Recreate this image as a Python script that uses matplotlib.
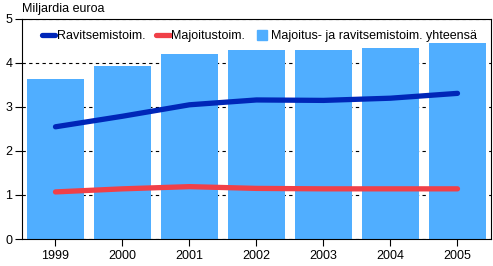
'''
Majoitus- ja ravitsemistoiminta, miljardia euroa
'''

import numpy as np
import matplotlib
matplotlib.use('Agg')
import matplotlib.pyplot as plt
from matplotlib.lines import Line2D

######################################

years=['1999','2000','2001','2002','2003','2004','2005']
ravitsemis=[2.55,2.79,3.05,3.16,3.15,3.20,3.31]
majoitus=[1.07,1.14,1.19,1.15,1.14,1.14,1.14]
yhteensa=[3.64,3.94,4.20,4.30,4.30,4.34,4.46]

######################################

barCol='#50aeff'
blueCol='#0026b8'
redCol='#f04048'

plt.rcParams['font.family']=['Liberation Sans','DejaVu Sans']
plt.rcParams['font.size']=9

fig=plt.figure(figsize=(4.93,2.66),dpi=100)
ax=fig.add_axes([0.0446,0.1015,0.9513,0.8271])

x=np.arange(len(years))

# grid behind bars
ax.set_axisbelow(True)
ax.yaxis.grid(True,linestyle=(0,(3,3)),color='black',linewidth=0.8)

ax.bar(x,yhteensa,width=0.84,color=barCol,zorder=2)
ax.plot(x,ravitsemis,color=blueCol,linewidth=3.8,solid_capstyle='round',zorder=3)
ax.plot(x,majoitus,color=redCol,linewidth=3.8,solid_capstyle='round',zorder=3)

ax.set_xlim(-0.5,6.5)
ax.set_ylim(0,5)
ax.set_xticks(x)
ax.set_xticklabels(years)
ax.set_yticks([0,1,2,3,4,5])
ax.tick_params(axis='both',direction='out',length=5,width=0.8,labelsize=9,colors='black')
ax.tick_params(axis='x',pad=3)
ax.tick_params(axis='y',pad=2)
for s in ax.spines.values():
  s.set_linewidth(0.8)

# legend: lines first, then a small square for the bars
handles=[Line2D([],[],color=blueCol,linewidth=3.8,solid_capstyle='round'),
         Line2D([],[],color=redCol,linewidth=3.8,solid_capstyle='round'),
         Line2D([],[],color=barCol,linestyle='none',marker='s',markersize=7)]
labels=['Ravitsemistoim.','Majoitustoim.','Majoitus- ja ravitsemistoim. yhteensä']
ax.legend(handles,labels,loc='upper left',bbox_to_anchor=(0.018,1.0),
          ncol=3,frameon=False,handlelength=1.1,handletextpad=0.15,columnspacing=0.8,fontsize=9)

fig.text(22/493,1-9/266,'Miljardia euroa',ha='left',va='center',fontsize=9)

plt.savefig('out.png',dpi=100)
